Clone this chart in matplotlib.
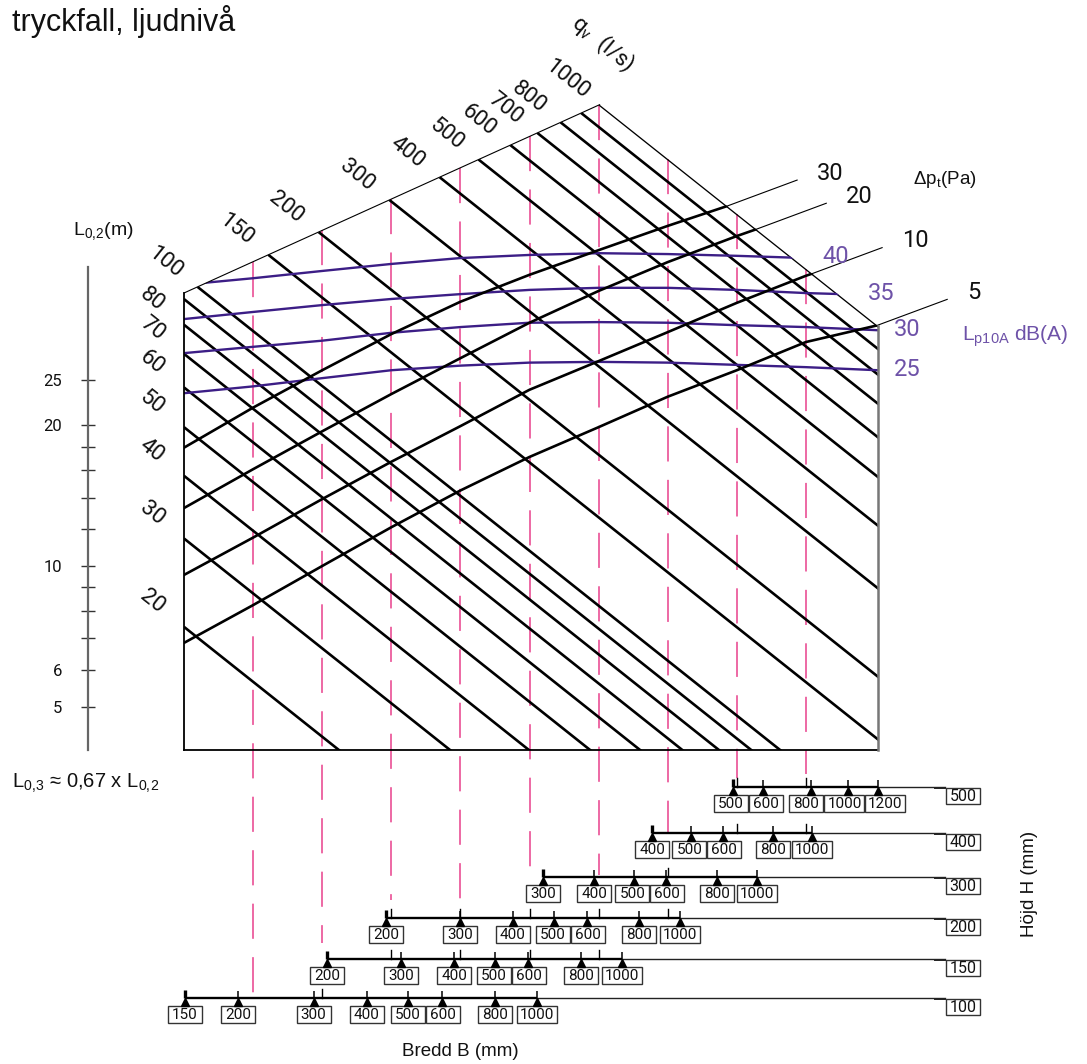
import numpy as np
import matplotlib
matplotlib.use("Agg")
import matplotlib.pyplot as plt
from matplotlib.patches import Polygon, Rectangle

# ---------------- values ----------------
flows = [20, 30, 40, 50, 60, 70, 80, 90, 100, 150, 200, 300, 400, 500,
         600, 700, 800, 900, 1000]          # q_v (l/s)
flows_unlabeled = [90, 900]

L_major = [5, 6, 10, 20, 25]                # L_0,2 (m)
L_minor = [7, 8, 9, 12, 14, 16, 18]

# pressure drop curves: L_0,2 (m) at size stations 0, 1, 2, ...
dp_levels = [30, 20, 10, 5]
dp_30 = [17.9, 21.8, 26.2, 31.3, 36.7, 41.9, 47.3, 53.3, 59.7]
dp_20 = [13.3, 16.1, 19.4, 23.3, 27.8, 33.1, 38.7, 44.6, 50.7, 57.1]
dp_10 = [9.57, 11.5, 13.9, 16.7, 19.9, 23.8, 27.4, 31.6, 36.5, 41.7, 47.1]
dp_5 = [6.85, 8.25, 10.0, 12.1, 14.5, 17.1, 19.8, 23.0, 26.2, 30.1, 32.7]

# sound level curves L_p10A dB(A)
db_levels = [40, 35, 30, 25]
db_40 = [39.9, 41.2, 42.7, 44.2, 45.5, 46.2, 46.6, 46.4, 46.0, 45.5]
db_35 = [33.7, 34.9, 36.1, 37.2, 38.1, 38.9, 39.3, 39.3, 38.9, 38.3, 37.9]
db_30 = [28.5, 29.4, 30.3, 31.5, 32.4, 33.1, 33.2, 33.1, 32.7, 32.4, 31.9]
db_25 = [23.4, 24.2, 25.2, 26.2, 26.8, 27.2, 27.3, 27.2, 26.9, 26.6, 26.2]

# width scales B (mm) for each height H (mm)
H_rows = [100, 150, 200, 300, 400, 500]
B_100 = [150, 200, 300, 400, 500, 600, 800, 1000]
B_150 = [200, 300, 400, 500, 600, 800, 1000]
B_200 = [200, 300, 400, 500, 600, 800, 1000]
B_300 = [300, 400, 500, 600, 800, 1000]
B_400 = [400, 500, 600, 800, 1000]
B_500 = [500, 600, 800, 1000, 1200]
B_rows = [B_100, B_150, B_200, B_300, B_400, B_500]

# ---------------- layout (sheet pixels) ----------------
W, H = 1087, 1064
X0, DX = 184, 69.1            # size station 0 and spacing
Y10, PXDEC = 566, 468         # L = 10 m and pixels per decade of L
S_RIGHT = (878 - X0) / DX
L_BOT = 10 ** (1 + (Y10 - 750) / PXDEC)
L_TL = 10 ** (1 + (Y10 - 293) / PXDEC)
TOP_SLOPE = 0.0669
row_y = [998, 959, 918, 877, 833, 787]
row_x0 = [185, 327, 386, 543, 652, 733]
row_k = [427, 422, 421, 409, 402, 381]
dash_end = [998, 943, 900, 903, 873, 875, 833, 778, 774]

PINK = '#e8408c'
PURPLE = '#3c1e86'
PURPLE_T = '#6e52a8'
NUM = dict(family=['Roboto', 'DejaVu Sans'])
TXT = dict(family=['Liberation Sans', 'DejaVu Sans'])


def throw(q, s):
    return 10 ** (1.6194 + 1.0722 * np.log10(q / 100) - 0.11737 * s)


def top(s):
    return 10 ** (np.log10(L_TL) + TOP_SLOPE * s)


def start_s(q):
    s = (1.6194 + 1.0722 * np.log10(q / 100) - np.log10(L_TL)) / (0.11737 + TOP_SLOPE)
    return max(0.0, s)


fig = plt.figure(figsize=(W / 100, H / 100), dpi=100)
ax = fig.add_axes([0, 0, 1, 1])
ax.set_xlim(0, W)
ax.set_ylim(H, 0)
ax.axis('off')

ch = fig.add_axes([0, 0, 1, 1])
ch.set_yscale('log')
ch.set_xlim(-X0 / DX, (W - X0) / DX)
ch.set_ylim(10 ** (1 + (Y10 - H) / PXDEC), 10 ** (1 + Y10 / PXDEC))
ch.patch.set_visible(False)
for sp in ['top', 'right', 'bottom']:
    ch.spines[sp].set_visible(False)
ch.xaxis.set_visible(False)
ch.spines['left'].set_position(('data', (88 - X0) / DX))
ch.spines['left'].set_bounds(L_BOT, 10 ** (1 + (Y10 - 267) / PXDEC))
ch.spines['left'].set_color('#666')
ch.spines['left'].set_linewidth(1.6)
ch.set_yticks(L_major, labels=[str(v) for v in L_major])
ch.set_yticks(L_minor, labels=['' for v in L_minor], minor=True)
ch.tick_params(axis='y', which='both', direction='inout', length=10, width=1.0,
               color='#333', pad=13.5, labelsize=12, labelcolor='#111')
for t in ch.get_yticklabels():
    t.set_fontfamily(NUM['family'])


def to_px(s, L):
    return ax.transData.inverted().transform(ch.transData.transform((s, L)))


s1000 = start_s(1000)
poly = Polygon([(0, L_TL), (s1000, top(s1000)), (S_RIGHT, throw(1000, S_RIGHT)),
                (S_RIGHT, L_BOT), (0, L_BOT)], closed=True, transform=ch.transData)

stations = np.r_[np.arange(10), S_RIGHT]

# pink size stations
for k, ye in zip(range(1, 10), dash_end):
    Lt = min(top(k), throw(1000, k))
    x, yt = to_px(k, Lt)
    ax.plot([x, x], [yt, ye], color=PINK, lw=1.1, ls=(0, (23, 12)))
    below = [(ry, rx) for ry, rx in zip(row_y, row_x0) if ry > ye + 5 and rx <= x]
    below.sort()
    for ry, rx in below[:2]:
        ax.plot([x, x], [ry - 9, ry], color='k', lw=1.0)

# flow lines
for q in flows:
    s0 = start_s(q)
    ln, = ch.plot([s0, 14], [throw(q, s0), throw(q, 14)], color='k', lw=1.9,
                  solid_capstyle='butt')
    ln.set_clip_path(poly)
    if q in flows_unlabeled:
        continue
    px, py = to_px(s0, throw(q, s0))
    ax.text(px - 32, py - 25, str(q), rotation=-38.5, rotation_mode='anchor',
            ha='center', va='center', fontsize=16, color='#111', **NUM)


def crossing(vals, f):
    xs = stations[:len(vals)]
    lv = np.log10(vals)
    d = lv - np.array([np.log10(f(s)) for s in xs])
    for i in range(len(d) - 1):
        if d[i] <= 0 < d[i + 1]:
            t = d[i] / (d[i] - d[i + 1])
            return xs[i] + t * (xs[i + 1] - xs[i]), 10 ** (lv[i] + t * (lv[i + 1] - lv[i])), True
    return xs[-1], vals[-1], False


edge = lambda s: throw(1000, s)

# sound level curves
for lev, vals in zip(db_levels, [db_40, db_35, db_30, db_25]):
    ln, = ch.plot(stations[:len(vals)], vals, color=PURPLE, lw=1.7)
    ln.set_clip_path(poly)
    s, L, hit = crossing(vals, edge)
    px, py = to_px(s, L)
    ax.text(px + (30 if hit else 16), py - 1, str(lev), ha='left', va='center',
            fontsize=17, color=PURPLE_T, **NUM)

# pressure drop curves
for lev, vals in zip(dp_levels, [dp_30, dp_20, dp_10, dp_5]):
    ln, = ch.plot(stations[:len(vals)], vals, color='k', lw=1.9)
    ln.set_clip_path(poly)
    s, L, hit = crossing(vals, edge)
    px, py = to_px(s, L)
    ax.plot([px, px + 70], [py, py - 26], color='k', lw=0.8)
    ax.text(px + 90, py - 33, str(lev), ha='left', va='center', fontsize=17,
            color='#111', **NUM)

# frame
ch.plot([0, s1000], [L_TL, top(s1000)], color='k', lw=0.8)
ch.plot([0, 0], [L_BOT, L_TL], color='k', lw=1.3)
ch.plot([0, S_RIGHT], [L_BOT, L_BOT], color='k', lw=1.3)
ch.plot([S_RIGHT, S_RIGHT], [L_BOT, throw(1000, S_RIGHT)], color='#777', lw=1.8)


def spread(centers, widths, gap=1.0):
    # push neighbouring label boxes apart so they do not overlap
    c = list(centers)
    for _ in range(30):
        moved = False
        for i in range(1, len(c)):
            need = (widths[i - 1] + widths[i]) / 2 + gap
            over = need - (c[i] - c[i - 1])
            if over > 0.01:
                c[i - 1] -= over / 2
                c[i] += over / 2
                moved = True
        if not moved:
            break
    return c


# width / height scales
for Hv, Bs, y, x0, k in zip(H_rows, B_rows, row_y, row_x0, row_k):
    B0 = Bs[0]
    r = fig.add_axes([100 / W, 1 - (y + 30) / H, 900 / W, 40 / H])
    r.set_xscale('log')
    r.set_xlim(B0 * 10 ** ((100 - x0) / k), B0 * 10 ** ((1000 - x0) / k))
    r.set_ylim(30, -10)
    r.axis('off')
    B_end = B0 * 10 ** ((945 - x0) / k)
    r.plot([Bs[0], Bs[-1]], [0, 0], color='k', lw=1.7, solid_capstyle='butt')
    r.plot([Bs[-1], B_end], [0, 0], color='#222', lw=1.0)
    r.plot([B0 * 10 ** ((935 - x0) / k), B_end], [0.8, 0.8], color='#222', lw=1.4)
    r.vlines(Bs[1:], -7, 0, color='k', lw=1.1)
    r.vlines(Bs[0], -8, 0, color='k', lw=2.4)
    r.plot(Bs, [3.6] * len(Bs), ls='none', marker='^', ms=5.5, color='k')
    bxs = [ax.transData.inverted().transform(r.transData.transform((B, 0)))[0] for B in Bs]
    ws = [34 if B < 1000 else 40 for B in Bs]
    for B, bx, w in zip(Bs, spread(bxs, ws), ws):
        ax.add_patch(Rectangle((bx - w / 2, y + 8), w, 17, fc='white', ec='#333', lw=1.0))
        ax.text(bx, y + 17, str(B), ha='center', va='center', fontsize=11, color='#111', **NUM)
    ax.add_patch(Rectangle((946, y + 1), 34, 16, fc='white', ec='#333', lw=1.0))
    ax.text(963, y + 9.5, str(Hv), ha='center', va='center', fontsize=11.5, color='#111', **NUM)

# texts
ax.text(12, 21, 'tryckfall, ljudnivå', fontsize=22, va='center', ha='left', color='#111', **TXT)
ax.text(603, 44, r'$\mathregular{q_v}$  (l/s)', rotation=-40, rotation_mode='anchor',
        ha='center', va='center', fontsize=16, color='#111', **NUM)
ax.text(945, 179, r'$\mathregular{\Delta p_t}$(Pa)', ha='center', va='center',
        fontsize=13.5, color='#111', **TXT)
ax.text(962, 336, r'$\mathregular{L_{p10A}}$ dB(A)', ha='left', va='center',
        fontsize=15, color=PURPLE_T, **TXT)
ax.text(103, 231, r'$\mathregular{L_{0,\!2}}$(m)', ha='center', va='center',
        fontsize=14, color='#111', **TXT)
ax.text(12, 783, r'$\mathregular{L_{0,\!3}}$ ≈ 0,67 x $\mathregular{L_{0,\!2}}$', ha='left',
        va='center', fontsize=14.5, color='#111', **TXT)
ax.text(460, 1051, 'Bredd B (mm)', ha='center', va='center', fontsize=13.5,
        color='#111', **TXT)
ax.text(1030, 884, 'Höjd H (mm)', ha='center', va='center', rotation=90,
        fontsize=13.5, color='#111', **TXT)

fig.savefig('out.png', dpi=100)
